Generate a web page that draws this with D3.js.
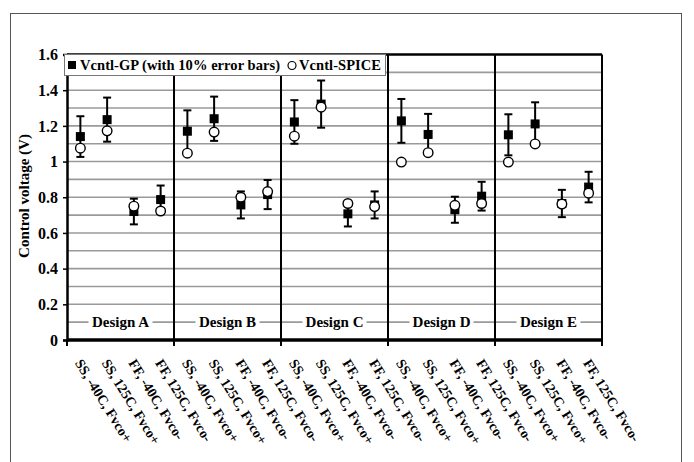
<!DOCTYPE html>
<html>
<head>
<meta charset="utf-8">
<script src="https://cdn.jsdelivr.net/npm/d3@7"></script>
<style>
  body { margin: 0; background: #fff; }
  svg, svg text { font-family: "Liberation Serif", "Times New Roman", Times, "DejaVu Serif", serif !important; font-weight: bold; }
</style>
</head>
<body>
<div id="chart"></div>
<script>
'use strict';

// data
var designs = ['Design A', 'Design B', 'Design C', 'Design D', 'Design E'];
var conditions = ['SS, -40C, Fvco+', 'SS, 125C, Fvco+', 'FF, -40C, Fvco-', 'FF, 125C, Fvco-'];
var gpValues = [1.14, 1.235, 0.72, 0.787,
                1.17, 1.24, 0.757, 0.815,
                1.222, 1.322, 0.707, 0.757,
                1.228, 1.152, 0.73, 0.806,
                1.15, 1.211, 0.765, 0.857];
var spiceValues = [1.075, 1.172, 0.75, 0.723,
                   1.047, 1.165, 0.80, 0.832,
                   1.142, 1.305, 0.765, 0.748,
                   0.997, 1.05, 0.755, 0.765,
                   0.997, 1.099, 0.762, 0.823];
var errorPct = 0.10; // "with 10% error bars"
var yTicks = [0, 0.2, 0.4, 0.6, 0.8, 1, 1.2, 1.4, 1.6];
var yTickLabels = ['0', '0.2', '0.4', '0.6', '0.8', '1', '1.2', '1.4', '1.6'];
var gridValues = [0.1, 0.2, 0.3, 0.4, 0.5, 0.6, 0.7, 0.8, 0.9, 1, 1.1, 1.2, 1.3, 1.4, 1.5];

var W = 694, H = 462;
var margin = {top: 54.5, right: 92, bottom: 122, left: 67};
var width = W - margin.left - margin.right;
var height = H - margin.top - margin.bottom;
var serif = '"Liberation Serif", "Times New Roman", serif';

// one row per point
var points = [];
designs.forEach(function(d, i) {
	conditions.forEach(function(c, j) {
		var k = i * conditions.length + j;
		points.push({key: d + '|' + c, design: d, cond: c, gp: gpValues[k], spice: spiceValues[k]});
	});
});

var svg = d3.select('#chart').append('svg')
	.attr('width', W)
	.attr('height', H)
	.attr('font-family', serif)
	.attr('font-weight', 'bold');

// outer frame
svg.append('rect')
	.attr('x', 10.5).attr('y', 13.5)
	.attr('width', 671).attr('height', 470)
	.attr('fill', 'none')
	.attr('stroke', '#555')
	.attr('stroke-width', 1);

var g = svg.append('g').attr('transform', 'translate(' + margin.left + ',' + margin.top + ')');

var xscale = d3.scaleBand()
	.domain(points.map(function(p) { return p.key; }))
	.range([0, width])
	.padding(0);

var yscale = d3.scaleLinear()
	.domain([0, 1.6])
	.range([height, 0]);

var cx = function(p) { return xscale(p.key) + xscale.bandwidth() / 2; };

// gridlines
g.selectAll('.grid')
	.data(gridValues)
.enter().append('line')
	.attr('class', 'grid')
	.attr('x1', 0).attr('x2', width)
	.attr('y1', function(d) { return yscale(d); })
	.attr('y2', function(d) { return yscale(d); })
	.attr('stroke', '#9a9a9a')
	.attr('stroke-width', 1.6);

// top border
g.append('line')
	.attr('x1', 0).attr('x2', width)
	.attr('y1', yscale(1.6)).attr('y2', yscale(1.6))
	.attr('stroke', '#000').attr('stroke-width', 2.5);

// design dividers and right border
var groupEdges = designs.map(function(d) { return xscale(d + '|' + conditions[0]); }).concat([width]);
g.selectAll('.divider')
	.data(groupEdges.slice(1))
.enter().append('line')
	.attr('class', 'divider')
	.attr('x1', function(d) { return d; }).attr('x2', function(d) { return d; })
	.attr('y1', 0).attr('y2', height)
	.attr('stroke', '#000').attr('stroke-width', 2);

// design labels with white backing
var labels = g.selectAll('.design')
	.data(designs)
.enter().append('g')
	.attr('class', 'design')
	.attr('transform', function(d) {
		var x0 = xscale(d + '|' + conditions[0]);
		var x1 = xscale(d + '|' + conditions[conditions.length - 1]) + xscale.bandwidth();
		return 'translate(' + ((x0 + x1) / 2) + ',' + yscale(0.1) + ')';
	});
labels.append('rect')
	.attr('x', -32).attr('y', -11)
	.attr('width', 64).attr('height', 20)
	.attr('fill', '#fff');
labels.append('text')
	.attr('text-anchor', 'middle')
	.attr('y', 5)
	.style('font-size', '15px')
	.text(function(d) { return d; });

// y axis
var yaxis = g.append('g')
	.call(d3.axisLeft(yscale).tickValues(yTicks).tickSize(4).tickPadding(5)
		.tickFormat(function(d, i) { return yTickLabels[i]; }));
yaxis.attr('font-family', serif).attr('font-size', null);
yaxis.select('.domain').attr('stroke-width', 2.5);
yaxis.selectAll('.tick line').attr('stroke-width', 1.5);
yaxis.selectAll('text')
	.style('font-size', '16px')
	.attr('fill', '#000');

// x axis: baseline with ticks at group edges
g.append('line')
	.attr('x1', 0).attr('x2', width)
	.attr('y1', height).attr('y2', height)
	.attr('stroke', '#000').attr('stroke-width', 3.5);
g.selectAll('.xtick')
	.data(groupEdges)
.enter().append('line')
	.attr('class', 'xtick')
	.attr('x1', function(d) { return d; }).attr('x2', function(d) { return d; })
	.attr('y1', height).attr('y2', height + 6)
	.attr('stroke', '#000').attr('stroke-width', 2);

g.selectAll('.xlabel')
	.data(points)
.enter().append('text')
	.attr('class', 'xlabel')
	.attr('transform', function(p) {
		return 'translate(' + (cx(p) - 6) + ',' + (height + 23) + ') rotate(58)';
	})
	.style('font-size', '14px')
	.text(function(p) { return p.cond; });

// y title
svg.append('text')
	.attr('transform', 'translate(29,196) rotate(-90)')
	.attr('text-anchor', 'middle')
	.style('font-size', '15px')
	.text('Control voltage (V)');

// error bars
var err = g.selectAll('.err')
	.data(points)
.enter().append('g')
	.attr('class', 'err');
err.append('line')
	.attr('x1', cx).attr('x2', cx)
	.attr('y1', function(p) { return yscale(p.gp * (1 + errorPct)); })
	.attr('y2', function(p) { return yscale(p.gp * (1 - errorPct)); })
	.attr('stroke', '#000').attr('stroke-width', 2);
[1 + errorPct, 1 - errorPct].forEach(function(f) {
	err.append('line')
		.attr('x1', function(p) { return cx(p) - 4; })
		.attr('x2', function(p) { return cx(p) + 4; })
		.attr('y1', function(p) { return yscale(p.gp * f); })
		.attr('y2', function(p) { return yscale(p.gp * f); })
		.attr('stroke', '#000').attr('stroke-width', 2);
});

// GP squares
g.selectAll('.gp')
	.data(points)
.enter().append('rect')
	.attr('class', 'gp')
	.attr('x', function(p) { return cx(p) - 4.5; })
	.attr('y', function(p) { return yscale(p.gp) - 4.5; })
	.attr('width', 9).attr('height', 9)
	.attr('fill', '#000');

// SPICE circles
g.selectAll('.spice')
	.data(points)
.enter().append('circle')
	.attr('class', 'spice')
	.attr('cx', cx)
	.attr('cy', function(p) { return yscale(p.spice); })
	.attr('r', 4.8)
	.attr('fill', '#fff')
	.attr('stroke', '#000')
	.attr('stroke-width', 1.4);

// legend
var legend = svg.append('g').attr('class', 'legend');
legend.append('rect')
	.attr('x', 64.5).attr('y', 54.5)
	.attr('width', 321).attr('height', 21)
	.attr('fill', '#fff')
	.attr('stroke', '#777').attr('stroke-width', 1);
legend.append('rect')
	.attr('x', 68).attr('y', 61)
	.attr('width', 8).attr('height', 8)
	.attr('fill', '#000');
legend.append('text')
	.attr('x', 80).attr('y', 70)
	.attr('textLength', 200)
	.style('font-size', '14.5px')
	.text('Vcntl-GP (with 10% error bars)');
legend.append('circle')
	.attr('cx', 292).attr('cy', 65.5)
	.attr('r', 4)
	.attr('fill', '#fff')
	.attr('stroke', '#000').attr('stroke-width', 1.2);
legend.append('text')
	.attr('x', 299).attr('y', 70)
	.attr('textLength', 82)
	.style('font-size', '14.5px')
	.text('Vcntl-SPICE');
</script>
</body>
</html>
